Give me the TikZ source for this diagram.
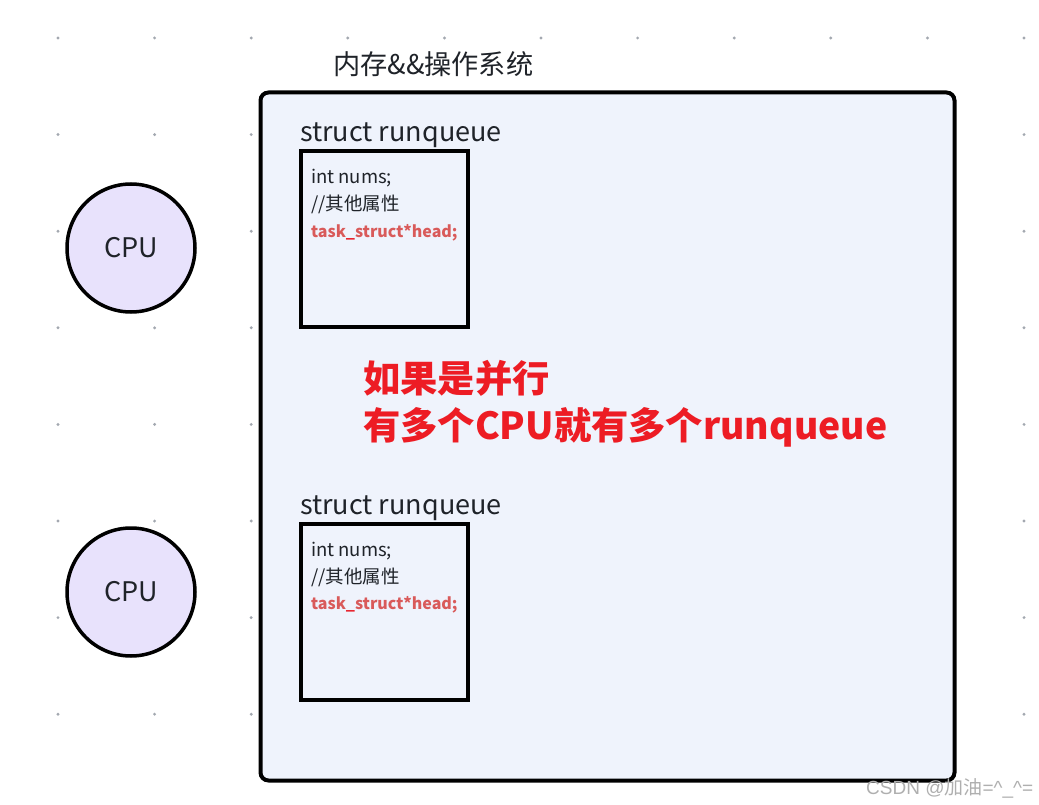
\documentclass[tikz,border=0pt]{standalone}
\usepackage{fontspec}
\setmainfont{Noto Sans CJK SC}
\newfontfamily\wmfont{Liberation Sans}
\newfontfamily\wmcjk{Noto Sans CJK SC}
\definecolor{memfill}{RGB}{239,243,252}
\definecolor{cpufill}{RGB}{232,226,252}
\definecolor{txt}{RGB}{31,35,41}
\definecolor{fieldred}{RGB}{217,90,90}
\definecolor{bigred}{RGB}{237,28,36}
\definecolor{ulred}{RGB}{232,32,42}
\definecolor{dotc}{RGB}{163,168,176}
\definecolor{wm}{RGB}{175,175,175}
\tikzset{
  membox/.style={draw=black, line width=4pt, rounded corners=8pt, fill=memfill, inner sep=0pt, outer sep=0pt, anchor=north west},
  cpunode/.style={circle, draw=black, line width=3.5pt, fill=cpufill, minimum size=128pt, inner sep=0pt, text=txt, font=\fontsize{27}{30}\selectfont},
  rqbox/.style={draw=black, line width=4pt, inner sep=0pt, outer sep=0pt, anchor=north west, minimum width=166.5pt, minimum height=176pt},
  label/.style={anchor=base west, inner sep=0pt, text=txt},
  field/.style={anchor=base west, inner sep=0pt, text=txt, font=\fontsize{18.5}{20}\selectfont},
  headfield/.style={anchor=base west, inner sep=0pt, text=fieldred, font=\fontsize{16}{20}\selectfont\bfseries},
  gdot/.style={fill=dotc, draw=none}
}
\begin{document}
\begin{tikzpicture}[x=1pt,y=-1pt]
\useasboundingbox (0,0) rectangle (1039,805);
\fill[white] (0,0) rectangle (1039,805);
% dot grid
\foreach \i in {0,...,10}{
  \foreach \j in {0,...,7}{
    \fill[gdot] (58+96.6*\i, 38+96.6*\j) circle (1.6pt);
  }
}
% memory box
\node[membox, minimum width=694pt, minimum height=688pt] (mem) at (260.5,92.5) {};
\node[label, font=\fontsize{27.2}{30}\selectfont] (memtitle) at (333,75) {内存\&\&操作系统};
% CPUs
\node[cpunode] (cpu1) at (131,248) {CPU};
\node[cpunode] (cpu2) at (131,592) {CPU};
% runqueue 1
\node[label, font=\fontsize{27}{30}\selectfont] (rq1lab) at (300,142) {struct runqueue};
\node[rqbox] (rq1) at (301,151.3) {};
\node[field] (rq1a) at (311,184) {int nums;};
\node[field] (rq1b) at (311,211) {//其他属性};
\node[headfield] (rq1c) at (311,237.5) {task{\color{ulred}\_}struct*head;};
% runqueue 2
\node[label, font=\fontsize{27}{30}\selectfont] (rq2lab) at (300,514) {struct runqueue};
\node[rqbox] (rq2) at (301,524) {};
\node[field] (rq2a) at (311,556) {int nums;};
\node[field] (rq2b) at (311,583) {//其他属性};
\node[headfield] (rq2c) at (311,609.5) {task{\color{ulred}\_}struct*head;};
% note
\node[label, text=bigred, font=\fontsize{37.3}{47}\selectfont\bfseries, align=left, anchor=north west] (note) at (363,360) {如果是并行\\有多个CPU就有多个runqueue};
% watermark
\node[anchor=base west, inner sep=0pt, text=wm, font=\fontsize{19}{22}\selectfont] (wmark) at (866,794) {\wmfont CSDN @\wmcjk 加油\wmfont =\^{}\_\^{}=};
\end{tikzpicture}
\end{document}
